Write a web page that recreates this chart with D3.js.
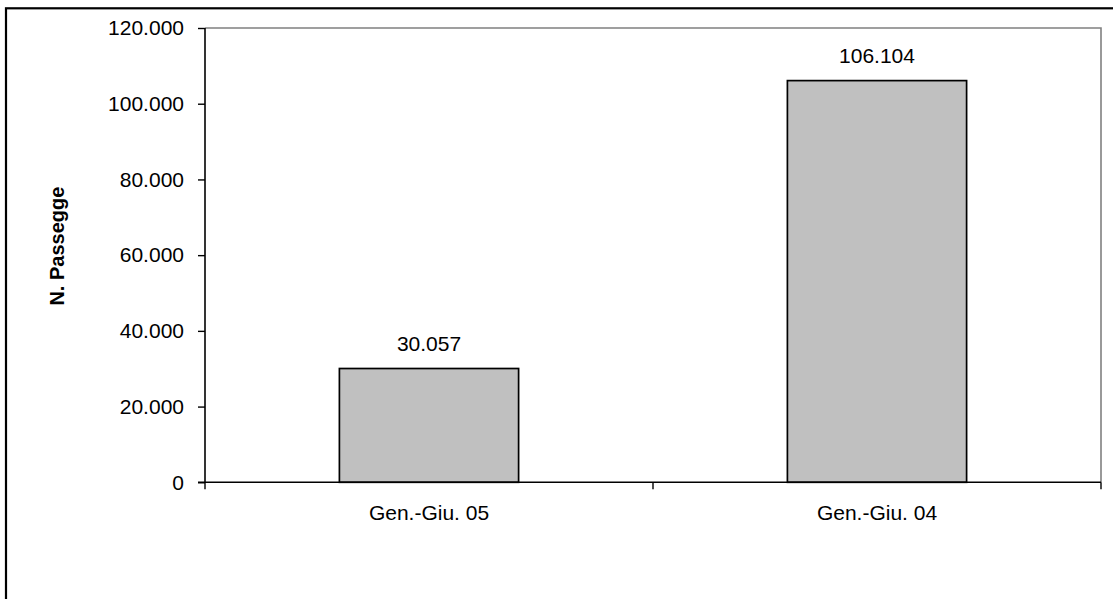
<!DOCTYPE html>
<html>
<head>
<meta charset="utf-8">
<script src="https://cdn.jsdelivr.net/npm/d3@7"></script>
<style>
  html, body { margin: 0; padding: 0; background: #fff; }
  svg { display: block; }
  text { font-family: "Liberation Sans", Arial, sans-serif; fill: #000; }
</style>
</head>
<body>
<svg id="chart" width="1113" height="599"></svg>
<script>
// Passenger counts, January–June, two years
const categories = ["Gen.-Giu. 05", "Gen.-Giu. 04"];
const values = [30057, 106104];
const yTicks = [0, 20000, 40000, 60000, 80000, 100000, 120000];
const yTitle = "N. Passegge";

const W = 1113, H = 599;
const plot = { left: 205, top: 28, right: 1101, bottom: 482.3 };

const svg = d3.select("#chart");

// outer chart frame (runs past the right and bottom edges)
svg.append("rect")
  .attr("x", 6).attr("y", 8.3)
  .attr("width", W + 20).attr("height", H + 20)
  .attr("fill", "#fff").attr("stroke", "#000").attr("stroke-width", 2.2);

const x = d3.scaleBand()
  .domain(categories)
  .range([plot.left, plot.right])
  .paddingInner(0.6).paddingOuter(0.3);

const y = d3.scaleLinear()
  .domain([0, 120000])
  .range([plot.bottom, plot.top]);

const fmt = v => d3.format(",")(v).replace(/,/g, ".");

// plot area border (top and right in gray)
svg.append("path")
  .attr("d", `M${plot.left},${plot.top}H${plot.right}V${plot.bottom}`)
  .attr("fill", "none").attr("stroke", "#808080").attr("stroke-width", 1.6);

// bars
svg.append("g").selectAll("rect")
  .data(values)
  .join("rect")
  .attr("x", (d, i) => x(categories[i]))
  .attr("width", x.bandwidth())
  .attr("y", d => y(d))
  .attr("height", d => y(0) - y(d))
  .attr("fill", "#c0c0c0")
  .attr("stroke", "#000")
  .attr("stroke-width", 1.7);

// value labels
svg.append("g").selectAll("text")
  .data(values)
  .join("text")
  .attr("x", (d, i) => x(categories[i]) + x.bandwidth() / 2)
  .attr("y", d => y(d) - 18)
  .attr("text-anchor", "middle")
  .attr("font-size", 21)
  .text(d => fmt(d));

// y axis
const yAxis = d3.axisLeft(y)
  .tickValues(yTicks)
  .tickSize(7)
  .tickPadding(14)
  .tickFormat(d => fmt(d));

const gy = svg.append("g")
  .attr("transform", `translate(${plot.left},0)`)
  .call(yAxis);
gy.select(".domain").attr("stroke", "#000").attr("stroke-width", 1.6)
  .attr("d", `M0,${plot.top}V${plot.bottom}`);
gy.selectAll(".tick line").attr("stroke", "#000").attr("stroke-width", 1.4);
gy.selectAll(".tick text")
  .attr("font-size", 21)
  .attr("font-family", "Liberation Sans, Arial, sans-serif")
  .attr("fill", "#000");

// x axis with ticks on category boundaries
const gx = svg.append("g")
  .attr("transform", `translate(0,${plot.bottom})`);
gx.append("line")
  .attr("x1", plot.left - 7).attr("x2", plot.right)
  .attr("stroke", "#000").attr("stroke-width", 1.6);
const bounds = [plot.left, (plot.left + plot.right) / 2, plot.right];
gx.selectAll("line.tick")
  .data(bounds)
  .join("line")
  .attr("class", "tick")
  .attr("x1", d => d).attr("x2", d => d)
  .attr("y1", 0).attr("y2", 7)
  .attr("stroke", "#000").attr("stroke-width", 1.4);
gx.selectAll("text")
  .data(categories)
  .join("text")
  .attr("x", d => x(d) + x.bandwidth() / 2)
  .attr("y", 38)
  .attr("text-anchor", "middle")
  .attr("font-size", 21)
  .text(d => d);

// y axis title
svg.append("text")
  .attr("transform", `translate(64,${(plot.top + plot.bottom) / 2 - 9}) rotate(-90)`)
  .attr("text-anchor", "middle")
  .attr("font-size", 20)
  .attr("font-weight", "bold")
  .text(yTitle);
</script>
</body>
</html>
